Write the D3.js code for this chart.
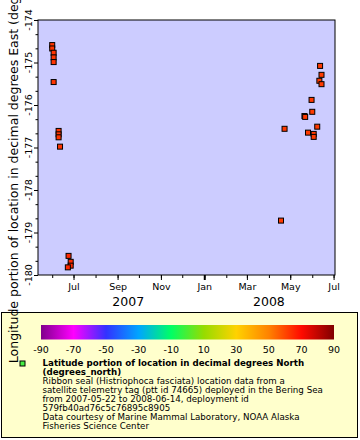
<!DOCTYPE html>
<html><head><meta charset="utf-8">
<script src="https://cdn.jsdelivr.net/npm/d3@7"></script>
<style>body{margin:0;background:#fff}svg{display:block;font-family:"DejaVu Sans",sans-serif}</style>
</head><body><svg id="c" width="360" height="440"></svg>
<script>
// ---- data ----
const dates = ["2007-06-01","2007-06-01","2007-06-03","2007-06-03","2007-06-03","2007-06-03",
  "2007-06-10","2007-06-10","2007-06-10","2007-06-12","2007-06-24","2007-06-27","2007-06-27","2007-06-23",
  "2008-04-18","2008-04-23","2008-05-21","2008-05-22","2008-05-26","2008-05-31","2008-06-01",
  "2008-06-03","2008-06-03","2008-06-08","2008-06-11","2008-06-12","2008-06-14","2008-06-14"];
const lons = [-174.59,-174.67,-174.77,-174.88,-174.99,-175.46,
  -176.61,-176.69,-176.76,-176.98,-179.55,-179.69,-179.78,-179.82,
  -178.72,-176.56,-176.26,-176.28,-176.65,-175.88,-176.16,
  -176.68,-176.75,-176.51,-175.43,-175.08,-175.51,-175.29];
const lats = [63,63,63,63,63,63,63,63,63,63,65,65,65,65,
  62,62,62,62,62,62,62,62,62,62,62,62,62,62];
const yTicks = [-180,-179,-178,-177,-176,-175,-174];
const colorTicks = [-90,-70,-50,-30,-10,10,30,50,70,90];
const paletteColors = ["#80008c","#ff00ff","#3232ff","#00a5ff","#00ff64","#96dc00","#ffd200","#ff8200","#ff0a00","#800000"];
const legendTitle = ["Latitude portion of location in decimal degrees North","(degrees_north)"];
const legendLines = ["Ribbon seal (Histriophoca fasciata) location data from a",
  "satellite telemetry tag (ptt id 74665) deployed in the Bering Sea",
  "from 2007-05-22 to 2008-06-14, deployment id",
  "579fb40ad76c5c76895c8905",
  "Data courtesy of Marine Mammal Laboratory, NOAA Alaska",
  "Fisheries Science Center"];
const yLabel = "Longitude portion of location in decimal degrees East (degrees_east)";

// ---- layout ----
const svg = d3.select("#c");
const L = 38, R = 335, T = 20, B = 275;
const parse = d3.utcParse("%Y-%m-%d");
const x = d3.scaleUtc().domain([Date.UTC(2007,4,12), Date.UTC(2008,6,3)]).range([L, R]);
const y = d3.scaleLinear().domain([-180,-174]).range([B, T]);
const color = d3.scaleLinear().domain(colorTicks).range(paletteColors).clamp(true);

svg.append("rect").attr("x",L).attr("y",T).attr("width",R-L).attr("height",B-T)
  .attr("fill","#ccccff");

// x axis
const minorMonths = d3.utcMonth.range(x.domain()[0], x.domain()[1]);
const majorMonths = minorMonths.filter(d => d.getUTCMonth() % 2 === 0);
const gx = svg.append("g").attr("transform",`translate(0,${B})`);
gx.call(d3.axisBottom(x).tickValues(minorMonths).tickSize(3).tickFormat(""));
gx.call(g=>g.select(".domain").remove());
const gx2 = svg.append("g").attr("transform",`translate(0,${B})`);
gx2.call(d3.axisBottom(x).tickValues(majorMonths).tickSize(5).tickPadding(3).tickFormat(d3.utcFormat("%b")));
gx2.select(".domain").remove();
gx2.selectAll("text").attr("font-size","9.5px").attr("font-family","DejaVu Sans").attr("fill","#000");
gx2.selectAll("line").attr("stroke","#000")
  .attr("stroke-width", d => d.getUTCMonth() === 0 ? 2 : 1);
gx.selectAll("line").attr("stroke","#000");

// year labels
const jan08 = Date.UTC(2008,0,1);
const years = [
  {label:"2007", a: minorMonths[0], b: jan08},
  {label:"2008", a: jan08, b: Date.UTC(2008,6,1)}
];
svg.selectAll(".yr").data(years).enter().append("text")
  .attr("x", d => (x(d.a)+x(d.b))/2).attr("y", 306)
  .attr("text-anchor","middle").attr("font-size","12.5px").text(d => d.label);

// y axis
const gy = svg.append("g").attr("transform",`translate(${L},0)`);
const minorY = d3.range(-180, -174, 1/3).filter(v => Math.abs(v - Math.round(v)) > 0.01);
gy.call(d3.axisLeft(y).tickValues(minorY).tickSize(2.5).tickFormat(""));
gy.select(".domain").remove();
const gy2 = svg.append("g").attr("transform",`translate(${L},0)`);
gy2.call(d3.axisLeft(y).tickValues(yTicks).tickSize(4).tickFormat(""));
gy2.select(".domain").remove();
svg.selectAll("g line").attr("stroke","#000");
svg.selectAll(".ytl").data(yTicks).enter().append("text")
  .attr("transform", d => `translate(32,${y(d)}) rotate(-90)`)
  .attr("text-anchor","middle").attr("font-size","9.5px").text(d => d);

// markers
const pts = dates.map((d,i) => ({t: parse(d), lon: lons[i], lat: lats[i]}));
svg.append("g").selectAll("rect").data(pts).enter().append("rect")
  .attr("x", d => x(d.t)-2.5).attr("y", d => y(d.lon)-2.5)
  .attr("width",5).attr("height",5)
  .attr("fill", d => color(d.lat)).attr("stroke","#000").attr("stroke-width",1);

// frame
svg.append("rect").attr("x",L).attr("y",T).attr("width",R-L).attr("height",B-T)
  .attr("fill","none").attr("stroke","#000").attr("stroke-width",1);

// legend box
svg.append("rect").attr("x",1.5).attr("y",312.5).attr("width",356).attr("height",125)
  .attr("fill","#ffffcc").attr("stroke","#000").attr("stroke-width",1);

// colorbar
const cb = d3.scaleLinear().domain([-90,90]).range([41,334]);
const grad = svg.append("defs").append("linearGradient").attr("id","pal")
  .attr("x1","0%").attr("x2","100%").attr("y1","0%").attr("y2","0%");
colorTicks.forEach((v,i) => grad.append("stop")
  .attr("offset", ((v+90)/180*100)+"%").attr("stop-color", paletteColors[i]));
svg.append("rect").attr("x",cb(-90)).attr("y",325).attr("width",cb(90)-cb(-90)).attr("height",14.5)
  .attr("fill","url(#pal)");
svg.selectAll(".cbl").data(colorTicks).enter().append("text")
  .attr("x", d => cb(d)).attr("y", 353).attr("text-anchor","middle")
  .attr("font-size","9.5px").text(d => d);

// legend entry
svg.append("rect").attr("x",20).attr("y",361).attr("width",5).attr("height",5)
  .attr("fill","#44ee44").attr("stroke","#000").attr("stroke-width",1);
const lt = svg.append("g").attr("font-size","8.7px");
legendTitle.forEach((s,i) => lt.append("text").attr("x",42.5).attr("y",366+9.05*i)
  .attr("font-weight","bold").text(s));
legendLines.forEach((s,i) => lt.append("text").attr("x",42.5).attr("y",366+9.05*(i+2)).text(s));

// y label (drawn last, overlapping the legend box as in the reference)
svg.append("text").attr("transform",`translate(18,${(T+B)/2}) rotate(-90)`)
  .attr("text-anchor","middle").attr("font-size","12.5px").text(yLabel);
</script></body></html>
